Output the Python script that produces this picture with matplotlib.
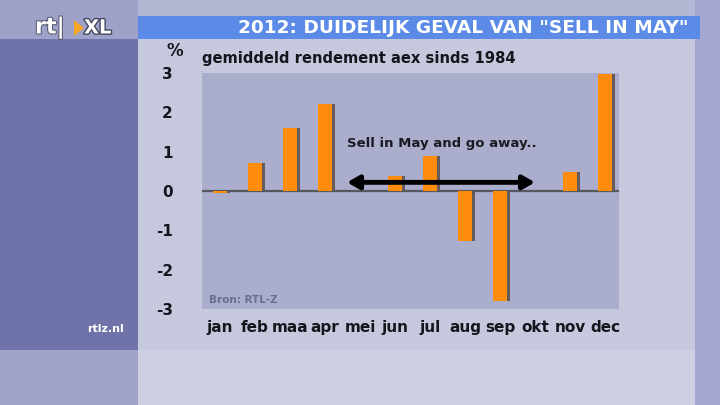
import matplotlib
matplotlib.use("Agg")
import matplotlib.pyplot as plt
import matplotlib.patheffects as pe
from matplotlib.patches import Rectangle, Polygon
import numpy as np

months = ['jan', 'feb', 'maa', 'apr', 'mei', 'jun', 'jul', 'aug', 'sep', 'okt', 'nov', 'dec']
values = [-0.05, 0.72, 1.6, 2.2, np.nan, 0.39, 0.89, -1.27, -2.8, np.nan, 0.49, 2.98]
yticks = [-3, -2, -1, 0, 1, 2, 3]
title = '2012: DUIDELIJK GEVAL VAN "SELL IN MAY"'
subtitle = 'gemiddeld rendement aex sinds 1984'
note = 'Sell in May and go away..'
source = 'Bron: RTL-Z'
arrow_start, arrow_end, arrow_y = 3.63, 9.0, 0.22

W, H = 720, 405
fig = plt.figure(figsize=(7.2, 4.05), dpi=100)
fig.patch.set_facecolor('#c6c8de')

def frect(x0, y0, x1, y1, color, z=-10):
    # pixel coords (top-left origin)
    fig.patches.append(Rectangle((x0 / W, 1 - y1 / H), (x1 - x0) / W, (y1 - y0) / H,
                                 transform=fig.transFigure, facecolor=color,
                                 edgecolor='none', zorder=z))

frect(0, 0, 720, 405, '#c6c8de')
frect(0, 0, 720, 16, '#b4b7d4')
frect(0, 350, 720, 405, '#cdcfe3')
frect(0, 0, 138, 39, '#9fa2c8')
frect(0, 39, 138, 350, '#7073aa')
frect(0, 350, 138, 405, '#a1a4c9')
frect(695, 0, 720, 405, '#a4a7cf')
frect(138, 16, 700, 39, '#5b8be6')

fig.text(688 / W, 1 - 28 / H, title, color='white', fontsize=13.3, fontweight='bold',
         ha='right', va='center', family='DejaVu Sans')

# logo
fig.text(35 / W, 1 - 28 / H, 'rt|', color='white', fontsize=16, fontweight='bold',
         ha='left', va='center',
         path_effects=[pe.withStroke(linewidth=1.5, foreground='#55586f')])
fig.patches.append(Polygon([[74 / W, 1 - 20 / H], [74 / W, 1 - 36 / H], [84 / W, 1 - 28 / H]],
                           closed=True, transform=fig.transFigure, facecolor='#f5a623',
                           edgecolor='none', zorder=3))
fig.text(84 / W, 1 - 28 / H, 'XL', color='white', fontsize=14, fontweight='bold',
         ha='left', va='center',
         path_effects=[pe.withStroke(linewidth=2, foreground='#45485f')])
fig.text(105 / W, 1 - 329 / H, 'rtlz.nl', color='white', fontsize=8, fontweight='bold',
         ha='center', va='center')

ax = fig.add_axes([202 / W, 1 - 309 / H, (619 - 202) / W, (309 - 73) / H])
ax.set_facecolor('#abadcc')
for s in ax.spines.values():
    s.set_visible(False)

x = np.arange(len(months))
vals = np.array(values, dtype=float)
ax.bar(x + 0.08, vals, width=0.4, color='#4d4038', alpha=0.75, zorder=2, linewidth=0)
ax.bar(x, vals, width=0.4, color='#ff8c0a', zorder=3, linewidth=0)
ax.axhline(0, color='#56585f', lw=1.6, zorder=2.5)

ax.set_xlim(-0.514, 11.4)
ax.set_ylim(-2.96, 2.985)
ax.set_xticks(x)
ax.set_xticklabels(months, fontsize=11, fontweight='bold', color='#15161c')
ax.set_yticks(yticks)
ax.set_yticklabels([str(t) for t in yticks], fontsize=11, fontweight='bold', color='#15161c')
ax.tick_params(axis='both', length=0)
ax.tick_params(axis='y', pad=21)
ax.tick_params(axis='x', pad=8)

ax.annotate('', xy=(arrow_end, arrow_y), xytext=(arrow_start, arrow_y),
            arrowprops=dict(arrowstyle='<|-|>,head_length=0.7,head_width=0.4',
                            lw=3.5, color='black', shrinkA=0, shrinkB=0), zorder=5)
ax.text(arrow_start, 1.22, note, fontsize=9.5, fontweight='bold', color='#1a1b22',
        ha='left', va='center', zorder=5)
ax.text(0.017, 0.04, source, transform=ax.transAxes, fontsize=7.5,
        fontweight='bold', color='#6b6e8a', ha='left', va='center')

fig.text(175 / W, 1 - 51 / H, '%', fontsize=12, fontweight='bold', color='#15161c',
         ha='center', va='center')
fig.text(202 / W, 1 - 59 / H, subtitle, fontsize=10.6, fontweight='bold', color='#15161c',
         ha='left', va='center')

fig.savefig('out.png', dpi=100, facecolor=fig.get_facecolor())
